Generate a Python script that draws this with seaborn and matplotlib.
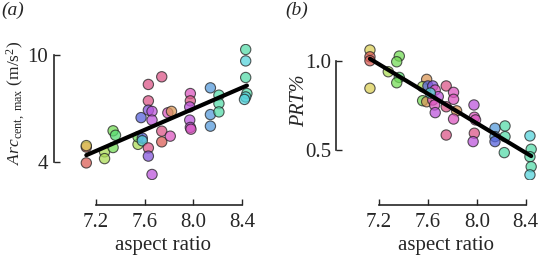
import matplotlib
matplotlib.use("Agg")
import matplotlib.pyplot as plt
import seaborn as sns
import pandas as pd

# panel (a): aspect ratio vs Arc_cent,max
ar_a = [7.12, 7.12, 7.12, 7.27, 7.27, 7.34, 7.36, 7.34, 7.545, 7.545, 7.57, 7.58, 7.58,
        7.63, 7.63, 7.63, 7.66, 7.66, 7.63, 7.63, 7.66, 7.74, 7.74, 7.74,
        7.79, 7.82, 7.81, 7.975, 7.975, 7.97, 7.97, 7.975, 7.98,
        8.14, 8.14, 8.14, 8.21, 8.21, 8.21, 8.43, 8.43, 8.43, 8.44, 8.43, 8.42]
arc_a = [4.85, 4.93, 3.96, 4.58, 4.2, 5.76, 5.51, 4.82, 5.0, 5.42, 6.5, 5.35, 5.2,
         8.36, 7.44, 6.92, 6.85, 6.36, 4.8, 4.34, 3.31, 8.79, 5.74, 5.14,
         6.77, 6.85, 5.46, 7.85, 7.44, 7.1, 6.36, 5.95, 5.85,
         8.17, 6.67, 6.02, 7.76, 7.29, 6.82, 10.32, 9.68, 8.75, 7.85, 7.66, 7.52]
grp_a = [0, 2, 0, 3, 3, 4, 5, 4, 3, 4, 9, 9, 7,
         13, 13, 10, 11, 11, 13, 10, 11, 13, 13, 0,
         12, 1, 12, 12, 13, 11, 11, 11, 12,
         8, 8, 8, 6, 6, 6, 6, 7, 6, 6, 7, 7]

# panel (b): aspect ratio vs PRT%
ar_b = [7.126, 7.126, 7.126, 7.126, 7.276, 7.366, 7.345, 7.366, 7.345,
        7.59, 7.557, 7.6, 7.64, 7.66, 7.557, 7.59, 7.64, 7.685, 7.655, 7.66, 7.62,
        7.75, 7.75, 7.75, 7.81, 7.81, 7.835, 7.81,
        7.977, 7.98, 7.99, 7.98, 7.97, 8.149, 8.149, 8.149,
        8.231, 8.231, 8.225, 8.435, 8.445, 8.435, 8.445, 8.435]
prt_b = [1.062, 1.024, 1.002, 0.847, 0.94, 1.028, 0.996, 0.908, 0.878,
         0.897, 0.856, 0.86, 0.86, 0.837, 0.777, 0.771, 0.781, 0.8, 0.753, 0.71, 0.82,
         0.86, 0.743, 0.584, 0.824, 0.785, 0.72, 0.674,
         0.753, 0.684, 0.669, 0.594, 0.547, 0.622, 0.575, 0.547,
         0.635, 0.575, 0.485, 0.579, 0.504, 0.462, 0.406, 0.36]
grp_b = [2, 0, 0, 2, 3, 4, 4, 5, 4,
         1, 3, 9, 10, 12, 4, 1, 12, 11, 12, 11, 7,
         13, 13, 13, 12, 12, 1, 12,
         11, 12, 12, 13, 11, 8, 8, 9,
         6, 6, 6, 7, 6, 6, 6, 7]

xticks = [7.2, 7.6, 8.0, 8.4]
xticklabels = ["7.2", "7.6", "8.0", "8.4"]

sns.set_style("ticks")
plt.rcParams["font.family"] = ["Liberation Serif", "DejaVu Serif"]
plt.rcParams["mathtext.fontset"] = "custom"
plt.rcParams["mathtext.rm"] = "Liberation Serif"
plt.rcParams["mathtext.it"] = "Liberation Serif:italic"
plt.rcParams["font.size"] = 15

pal = dict(enumerate(sns.color_palette("hls", 14)))

fig = plt.figure(figsize=(5.38, 2.6), dpi=100)
ax1 = fig.add_axes([0.1333, 0.3077, 0.3392, 0.5231])
ax2 = fig.add_axes([0.659, 0.3077, 0.3408, 0.5231])

da = pd.DataFrame({"ar": ar_a, "val": arc_a, "grp": grp_a})
db = pd.DataFrame({"ar": ar_b, "val": prt_b, "grp": grp_b})

for ax, d in [(ax1, da), (ax2, db)]:
    sns.scatterplot(data=d, x="ar", y="val", hue="grp", palette=pal, legend=False,
                    s=55, alpha=0.75, edgecolor="#222222", linewidth=0.8, ax=ax, zorder=2)
    sns.regplot(data=d, x="ar", y="val", scatter=False, ci=None, color="black",
                line_kws={"lw": 3, "zorder": 3}, ax=ax)
    ax.set_xlim(7.0, 8.5)
    ax.set_xticks(xticks)
    ax.set_xticklabels(xticklabels)
    ax.set_xlabel("aspect ratio", fontsize=15, labelpad=3)
    ax.tick_params(direction="in", length=4, width=1, pad=4, labelsize=15)
    ax.tick_params(axis="x", pad=6)

ax1.set_ylim(3.0, 10.63)
ax1.set_yticks([4, 10])
ax1.set_ylabel(r"$\mathit{Arc}_{\mathrm{cent,\ max}}$ (m/s$^2$)", fontsize=12.5)
ax1.yaxis.set_label_coords(-0.245, 0.57)

ax2.set_ylim(0.331, 1.096)
ax2.set_yticks([0.5, 1.0])
ax2.set_yticklabels(["0.5", "1.0"])
ax2.set_ylabel("PRT%", fontstyle="italic", fontsize=14.5)
ax2.yaxis.set_label_coords(-0.25, 0.58)

for ax in (ax1, ax2):
    sns.despine(ax=ax, offset={"left": 13, "bottom": 18}, trim=True)
    for sp in ax.spines.values():
        sp.set_linewidth(1.2)

fig.text(0.003, 0.995, "(a)", fontstyle="italic", fontsize=14, va="top")
fig.text(0.53, 0.995, "(b)", fontstyle="italic", fontsize=14, va="top")

fig.savefig("out.png", dpi=100)
